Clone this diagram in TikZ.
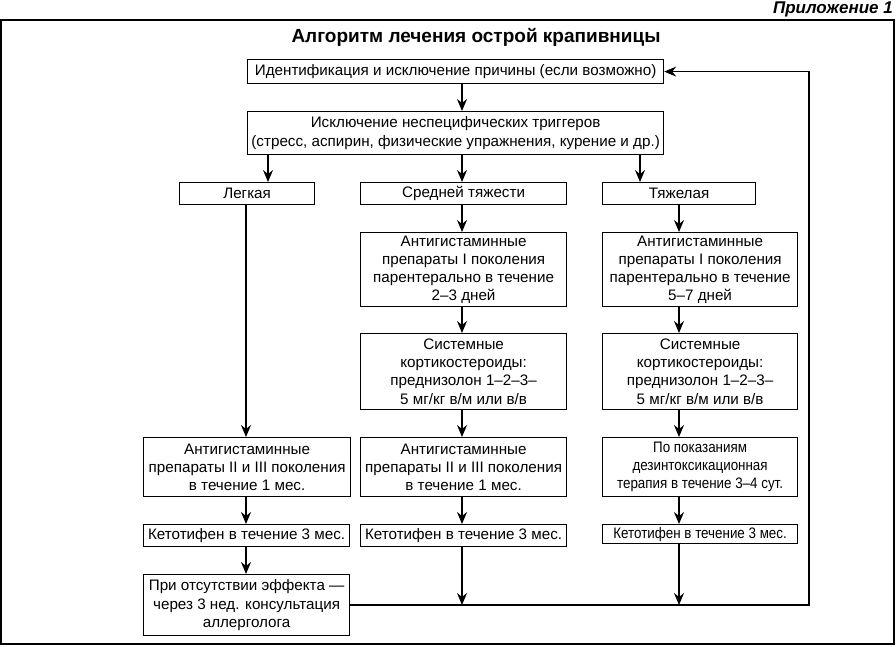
\documentclass[tikz,border=0pt]{standalone}
\usepackage{fontspec}
\usepackage{graphicx}
\setmainfont{Liberation Sans}
\usetikzlibrary{arrows.meta}

\newcommand{\nw}[1]{\scalebox{0.88}[1]{#1}}

\tikzset{
  box/.style={draw, line width=1.2pt, inner sep=0pt, align=center,
    anchor=north west, font=\fontsize{15.2}{18.2}\selectfont},
  arr/.style={line width=1.2pt, -{Stealth[length=12pt,width=10pt,inset=4pt]}},
}

\begin{document}
\begin{tikzpicture}[x=1pt,y=-1pt]

  \useasboundingbox (0,0) rectangle (896,646);
  \draw[line width=2pt] (1,20) rectangle (894,644);

  \node[anchor=east, inner sep=0pt, font=\bfseries\itshape\fontsize{17}{19}\selectfont] (appx) at (893,9) {Приложение 1};
  \node[font=\bfseries\fontsize{19}{22}\selectfont] (title) at (476,37) {Алгоритм лечения острой крапивницы};

  % top of the scheme
  \node[box, minimum width=416, minimum height=24] (ident) at (247,59)
    {Идентификация и исключение причины (если возможно)};
  \node[box, minimum width=416, minimum height=43] (trig) at (247,111)
    {Исключение неспецифических триггеров\\(стресс, аспирин, физические упражнения, курение и др.)};

  \node[box, minimum width=135, minimum height=22] (leg) at (179,182) {Легкая};
  \node[box, minimum width=206, minimum height=22] (mid) at (360,182) {Средней тяжести};
  \node[box, minimum width=153, minimum height=22] (hvy) at (602,182) {Тяжелая};

  % left column
  \node[box, minimum width=207, minimum height=59] (l1) at (143,437)
    {Антигистаминные\\препараты II и III поколения\\в течение 1 мес.};
  \node[box, minimum width=206, minimum height=22] (l2) at (143,524) {Кетотифен в течение 3 мес.};
  \node[box, minimum width=206, minimum height=61] (l3) at (143,574)
    {При отсутствии эффекта —\\через 3 нед. консультация\\аллерголога};

  % middle column
  \node[box, minimum width=206, minimum height=74] (m1) at (360,232)
    {Антигистаминные\\препараты I поколения\\парентерально в течение\\2–3 дней};
  \node[box, minimum width=206, minimum height=76] (m2) at (360,333)
    {Системные\\кортикостероиды:\\преднизолон 1–2–3–\\5 мг/кг в/м или в/в};
  \node[box, minimum width=206, minimum height=59] (m3) at (360,437)
    {Антигистаминные\\препараты II и III поколения\\в течение 1 мес.};
  \node[box, minimum width=206, minimum height=22] (m4) at (360,524) {Кетотифен в течение 3 мес.};

  % right column
  \node[box, minimum width=195, minimum height=74] (r1) at (602,232)
    {Антигистаминные\\препараты I поколения\\парентерально в течение\\5–7 дней};
  \node[box, minimum width=195, minimum height=76] (r2) at (602,333)
    {Системные\\кортикостероиды:\\преднизолон 1–2–3–\\5 мг/кг в/м или в/в};
  \node[box, minimum width=195, minimum height=59] (r3) at (602,437)
    {\nw{По показаниям}\\\nw{дезинтоксикационная}\\\nw{терапия в течение 3–4 сут.}};
  \node[box, minimum width=195, minimum height=19] (r4) at (602,524) {\nw{Кетотифен в течение 3 мес.}};

  \coordinate (xl) at (268,0);
  \coordinate (xL) at (246,0);
  \coordinate (xm) at (462,0);
  \coordinate (xh) at (640,0);
  \coordinate (xr) at (679,0);
  \coordinate (fb) at (809,605);

  \draw[arr] (ident.south -| xm) -- (trig.north -| xm);
  \draw[arr] (trig.south -| xl) -- (leg.north -| xl);
  \draw[arr] (trig.south -| xm) -- (mid.north -| xm);
  \draw[arr] (trig.south -| xh) -- (hvy.north -| xh);

  \draw[arr] (leg.south -| xL) -- (l1.north -| xL);
  \draw[arr] (l1.south -| xL) -- (l2.north -| xL);
  \draw[arr] (l2.south -| xL) -- (l3.north -| xL);

  \draw[arr] (mid.south -| xm) -- (m1.north -| xm);
  \draw[arr] (m1.south -| xm) -- (m2.north -| xm);
  \draw[arr] (m2.south -| xm) -- (m3.north -| xm);
  \draw[arr] (m3.south -| xm) -- (m4.north -| xm);
  \draw[arr] (m4.south -| xm) -- (xm |- fb);

  \draw[arr] (hvy.south -| xr) -- (r1.north -| xr);
  \draw[arr] (r1.south -| xr) -- (r2.north -| xr);
  \draw[arr] (r2.south -| xr) -- (r3.north -| xr);
  \draw[arr] (r3.south -| xr) -- (r4.north -| xr);
  \draw[arr] (r4.south -| xr) -- (xr |- fb);

  % back to the start
  \draw[arr] (l3.east |- fb) -- (fb) |- (ident.east);

\end{tikzpicture}
\end{document}
